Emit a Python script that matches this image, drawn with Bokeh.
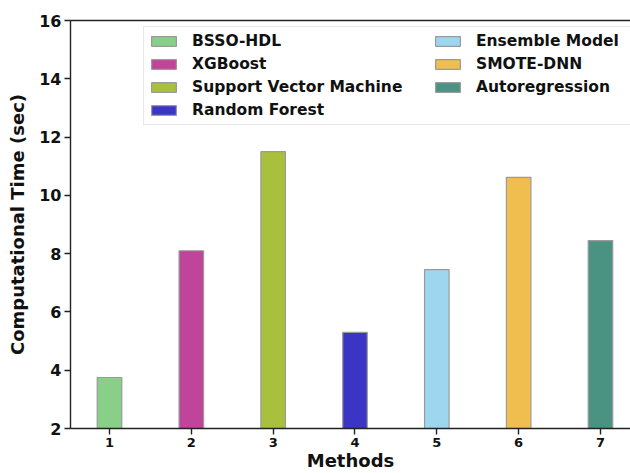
from bokeh.plotting import figure
from bokeh.models import Legend, LegendItem, FixedTicker, LinearAxis, Range1d
from bokeh.embed import file_html
from bokeh.resources import INLINE

methods = [1, 2, 3, 4, 5, 6, 7]
names = ["BSSO-HDL", "XGBoost", "Support Vector Machine", "Random Forest",
         "Ensemble Model", "SMOTE-DNN", "Autoregression"]
times = [3.75, 8.1, 11.5, 5.3, 7.45, 10.62, 8.45]
colors = ["#88cf88", "#c0449a", "#a9c03c", "#3b35c6", "#9ed6f0", "#f0bd4f", "#4a9383"]
y_ticks = [2, 4, 6, 8, 10, 12, 14, 16]

FONT = "DejaVu Sans"

p = figure(width=630, height=473, output_backend="svg", toolbar_location=None,
           x_range=Range1d(0.5234, 7.367), y_range=Range1d(2, 16),
           min_border_left=70, min_border_top=20, min_border_right=0, min_border_bottom=45)
p.outline_line_color = None
p.grid.visible = False
p.background_fill_color = "white"

items = []
for m, n, t, c in zip(methods, names, times, colors):
    r = p.vbar(x=[m], top=[t], bottom=0, width=0.3, fill_color=c,
               line_color="#9a9a9a", line_width=1.2)
    items.append(LegendItem(label=n, renderers=[r]))

for ax in (p.xaxis[0], p.yaxis[0]):
    ax.axis_line_color = "#222222"
    ax.axis_line_width = 1.4
    ax.major_tick_line_color = "#222222"
    ax.major_tick_line_width = 1.4
    ax.major_tick_out = 6
    ax.major_tick_in = 0
    ax.minor_tick_out = 0
    ax.minor_tick_in = 0
    ax.major_label_text_font = FONT
    ax.major_label_text_font_style = "bold"
    ax.major_label_text_color = "#111111"
    ax.axis_label_text_font = FONT
    ax.axis_label_text_font_style = "bold"
    ax.axis_label_text_font_size = "18px"
    ax.axis_label_text_color = "#111111"

p.xaxis.ticker = FixedTicker(ticks=methods)
p.xaxis.major_label_text_font_size = "13px"
p.xaxis.major_label_standoff = 3
p.xaxis.axis_label = "Methods"
p.xaxis.axis_label_standoff = 0

p.yaxis.ticker = FixedTicker(ticks=y_ticks)
p.yaxis.major_label_text_font_size = "16px"
p.yaxis.major_label_standoff = 3
p.yaxis.axis_label = "Computational Time (sec)"
p.yaxis.axis_label_standoff = 8

top_ax = LinearAxis(ticker=FixedTicker(ticks=[]), axis_line_color="#222222",
                    axis_line_width=1.4, major_tick_out=0, major_tick_in=0,
                    minor_tick_out=0, minor_tick_in=0)
p.add_layout(top_ax, "above")

common = dict(glyph_width=31, glyph_height=12, label_standoff=13,
              label_text_font=FONT, label_text_font_style="bold",
              label_text_font_size="15.5px", label_text_color="#111111",
              label_height=20, spacing=3, padding=4, margin=0)

legend1 = Legend(items=items[:4], location=(73, 303), label_width=434,
                 border_line_color="#d0d0d0", border_line_width=1.2,
                 background_fill_alpha=0.9, **common)
legend2 = Legend(items=items[4:], location=(362, 331),
                 border_line_color=None, background_fill_alpha=0.0, **common)
p.add_layout(legend1, "center")
p.add_layout(legend2, "center")

open("out.html", "w").write(file_html(p, INLINE))
